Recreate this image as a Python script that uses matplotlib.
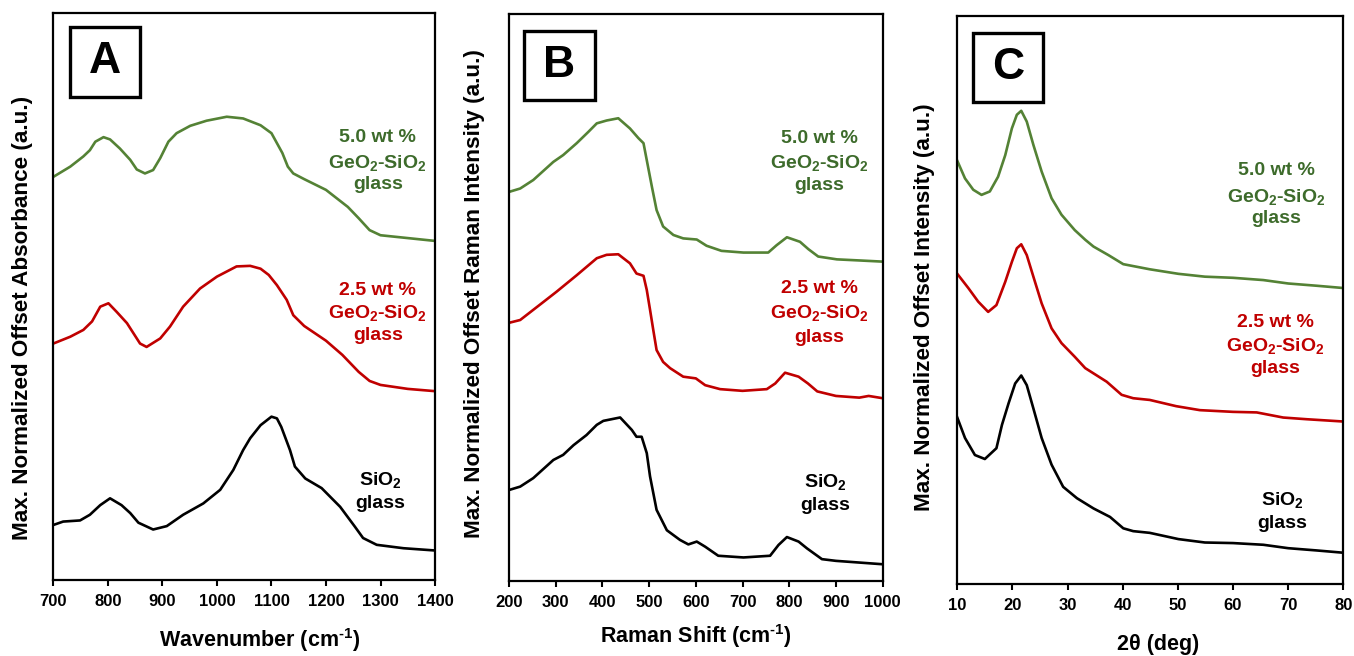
import matplotlib
matplotlib.use("Agg")
import matplotlib.pyplot as plt
from matplotlib.patches import Rectangle

plt.rcParams['font.family'] = ['Liberation Sans', 'DejaVu Sans']
plt.rcParams['font.weight'] = 'bold'
plt.rcParams['mathtext.fontset'] = 'custom'
plt.rcParams['mathtext.rm'] = 'Liberation Sans:bold'
plt.rcParams['mathtext.bf'] = 'Liberation Sans:bold'
plt.rcParams['mathtext.it'] = 'Liberation Sans:bold:italic'
plt.rcParams['mathtext.default'] = 'bf'

GREEN = '#548235'
GREEN_TXT = '#3d6b2b'
RED = '#c00000'
BLACK = '#000000'

# ---------------- Panel A: FTIR absorbance ----------------
ftir_x_ge50 = [700, 731, 755, 767, 777, 792, 804, 822, 841, 853, 868, 883, 896, 911, 926, 951, 981, 1018, 1048,
               1080, 1100, 1120, 1130, 1140, 1160, 1200, 1240, 1260, 1280, 1300, 1350, 1400]
ftir_y_ge50 = [71.1, 72.9, 74.7, 75.8, 77.3, 78.1, 77.7, 76.1, 74.1, 72.4, 71.7, 72.3, 74.4, 77.3, 78.8, 80.1, 81.0, 81.7, 81.4,
               80.2, 78.8, 75.3, 72.9, 71.7, 70.7, 68.8, 65.8, 63.8, 61.7, 60.8, 60.3, 59.8]
ftir_x_ge25 = [700, 731, 755, 771, 786, 801, 816, 835, 847, 859, 871, 896, 914, 938, 969, 1000, 1036, 1061,
               1080, 1095, 1110, 1128, 1140, 1160, 1200, 1230, 1260, 1280, 1300, 1350, 1400]
ftir_y_ge25 = [41.7, 42.9, 44.1, 45.6, 48.2, 48.8, 47.3, 45.3, 43.5, 41.7, 41.1, 42.6, 44.7, 48.2, 51.4, 53.5, 55.3, 55.4,
               54.9, 53.8, 52.0, 49.4, 46.7, 44.8, 42.2, 39.7, 36.7, 35.1, 34.4, 33.7, 33.3]
ftir_x_sio2 = [700, 718, 749, 767, 786, 804, 825, 841, 856, 883, 908, 938, 975, 1006, 1030, 1048, 1061, 1080,
               1100, 1110, 1118, 1134, 1143, 1162, 1192, 1226, 1253, 1268, 1293, 1342, 1400]
ftir_y_sio2 = [9.7, 10.3, 10.5, 11.5, 13.2, 14.4, 13.2, 11.8, 10.1, 8.9, 9.5, 11.5, 13.5, 15.9, 19.4, 22.9, 25.0, 27.3,
               28.8, 28.5, 27.0, 22.9, 20.0, 17.9, 16.2, 12.9, 9.4, 7.4, 6.2, 5.6, 5.2]
ftir_ticks = [700, 800, 900, 1000, 1100, 1200, 1300, 1400]

# ---------------- Panel B: Raman ----------------
raman_x_ge50 = [200, 224, 252, 295, 316, 345, 370, 388, 409, 434, 459, 477, 488, 495, 506, 516, 530, 552,
                573, 602, 623, 655, 702, 755, 773, 795, 823, 841, 862, 902, 952, 1000]
raman_y_ge50 = [68.6, 69.2, 70.7, 73.9, 75.1, 77.2, 79.2, 80.7, 81.2, 81.6, 79.8, 78.1, 77.2, 74.2, 69.5, 65.4, 62.5, 61.0,
                60.4, 60.2, 59.1, 58.2, 57.9, 57.9, 59.2, 60.6, 59.8, 58.5, 57.2, 56.7, 56.5, 56.3]
raman_x_ge25 = [200, 224, 274, 302, 345, 388, 409, 434, 459, 473, 488, 495, 502, 509, 516, 530, 545,
                573, 600, 620, 652, 700, 752, 770, 791, 820, 840, 860, 900, 950, 970, 1000]
raman_y_ge25 = [45.5, 46.0, 49.2, 51.0, 53.9, 56.9, 57.5, 57.6, 56.0, 54.2, 53.8, 51.3, 47.8, 44.2, 40.7, 38.6, 37.5,
                36.0, 35.7, 34.5, 33.8, 33.5, 33.8, 34.8, 36.7, 36.0, 34.8, 33.4, 32.6, 32.3, 32.6, 32.2]
raman_x_sio2 = [200, 224, 252, 295, 316, 338, 366, 388, 402, 438, 463, 473, 484, 495, 502, 516, 538, 566,
                584, 602, 620, 648, 702, 759, 777, 795, 820, 838, 870, 900, 950, 1000]
raman_y_sio2 = [16.0, 16.6, 18.1, 21.3, 22.2, 23.9, 25.7, 27.5, 28.2, 28.8, 26.6, 25.4, 25.4, 22.5, 18.4, 12.5, 8.9, 7.2,
                6.4, 6.9, 6.0, 4.4, 4.1, 4.4, 6.3, 7.7, 6.9, 5.7, 3.8, 3.5, 3.2, 2.9]
raman_ticks = [200, 300, 400, 500, 600, 700, 800, 900, 1000]

# ---------------- Panel C: XRD ----------------
xrd_x_ge50 = [10, 11.4, 12.9, 14.4, 15.9, 17.4, 18.7, 19.9, 20.8, 21.6, 22.6, 23.8, 25.3, 27.1, 28.9, 31.3, 33.2,
              34.7, 37.4, 40.1, 44.9, 50.1, 54.9, 60, 65.5, 70, 75.2, 80]
xrd_y_ge50 = [74.5, 71.4, 69.4, 68.5, 69.1, 71.7, 75.5, 80.2, 82.6, 83.3, 81.4, 77.3, 72.6, 67.9, 65.0, 62.3, 60.6,
              59.4, 57.9, 56.3, 55.4, 54.6, 54.1, 53.9, 53.5, 52.9, 52.5, 52.1]
xrd_x_ge25 = [10, 12.0, 13.8, 15.6, 17.1, 18.7, 19.9, 20.8, 21.6, 22.6, 23.8, 25.3, 27.1, 28.9, 31.3, 33.2,
              37.1, 39.8, 41.9, 44.9, 49.7, 54, 60, 64.3, 69.1, 73.4, 80]
xrd_y_ge25 = [54.6, 52.1, 49.7, 47.9, 49.1, 53.2, 56.7, 59.1, 59.8, 57.9, 54.1, 49.4, 45.0, 42.4, 40.0, 38.0,
              35.6, 33.3, 32.7, 32.4, 31.3, 30.6, 30.3, 30.2, 29.3, 29.0, 28.6]
xrd_x_sio2 = [10, 11.4, 13.2, 15.0, 17.1, 18.1, 19.3, 20.5, 21.6, 22.6, 23.8, 25.3, 27.1, 29.2, 31.7,
              34.7, 37.7, 40.1, 41.9, 44.9, 50.1, 54.9, 60, 65.5, 70, 75.2, 80]
xrd_y_sio2 = [29.3, 25.7, 22.7, 22.0, 23.9, 28.0, 31.8, 35.3, 36.7, 35.0, 30.9, 25.7, 21.0, 17.1, 15.1,
              13.3, 11.8, 9.8, 9.3, 9.0, 7.9, 7.3, 7.2, 6.9, 6.3, 5.9, 5.5]
xrd_ticks = [10, 20, 30, 40, 50, 60, 70, 80]

fig = plt.figure(figsize=(13.54, 6.56), dpi=100)

axA = fig.add_axes([0.0394, 0.1159, 0.2819, 0.8643])
axB = fig.add_axes([0.3759, 0.1148, 0.2760, 0.8639])
axC = fig.add_axes([0.7070, 0.1098, 0.2851, 0.8659])

LW = 1.9

panels = [
    (axA, (700, 1400), ftir_ticks,
     [(ftir_x_ge50, ftir_y_ge50, GREEN), (ftir_x_ge25, ftir_y_ge25, RED), (ftir_x_sio2, ftir_y_sio2, BLACK)],
     'A', (0.0437, 0.852, 0.1834, 0.1235),
     (1295, [78.0, 73.5, 69.7]), (1295, [51.1, 47.1, 43.2]), (1299, [17.6, 13.4])),
    (axB, (200, 1000), raman_ticks,
     [(raman_x_ge50, raman_y_ge50, GREEN), (raman_x_ge25, raman_y_ge25, RED), (raman_x_sio2, raman_y_sio2, BLACK)],
     'B', (0.0401, 0.848, 0.190, 0.1218),
     (864.5, [78.1, 73.7, 69.8]), (864.5, [51.6, 47.2, 43.0]), (876.7, [17.5, 13.2])),
    (axC, (10, 80), xrd_ticks,
     [(xrd_x_ge50, xrd_y_ge50, GREEN), (xrd_x_ge25, xrd_y_ge25, RED), (xrd_x_sio2, xrd_y_sio2, BLACK)],
     'C', (0.0415, 0.849, 0.181, 0.1215),
     (67.9, [72.8, 68.2, 64.4]), (67.7, [46.0, 41.9, 37.9]), (69.0, [14.8, 10.7])),
]

LABEL_FS = 14
for ax, xlim, ticks, series, letter, box, g_lab, r_lab, k_lab in panels:
    for xs, ys, c in series:
        ax.plot(xs, ys, color=c, lw=LW, solid_joinstyle='round')
    ax.set_xlim(*xlim)
    ax.set_ylim(0, 100)
    ax.set_xticks(ticks)
    ax.set_xticklabels([str(t) for t in ticks])
    for lab in ax.get_xticklabels():
        lab.set_fontsize(12)
        lab.set_fontweight('bold')
    ax.set_yticks([])
    ax.tick_params(axis='x', direction='out', length=4, width=1.5, pad=6)
    for s in ax.spines.values():
        s.set_linewidth(1.6)
    # panel letter box
    ax.add_patch(Rectangle((box[0], box[1]), box[2], box[3], transform=ax.transAxes,
                           fill=False, lw=2.4, ec='black', clip_on=False))
    ax.text(box[0] + box[2] / 2, box[1] + box[3] / 2, letter, transform=ax.transAxes,
            ha='center', va='center', fontsize=32, fontweight='bold')
    gx, gy = g_lab
    ax.text(gx, gy[0], '5.0 wt %', color=GREEN_TXT, ha='center', va='center', fontsize=LABEL_FS)
    ax.text(gx, gy[1], r'GeO$_2$-SiO$_2$', color=GREEN_TXT, ha='center', va='center', fontsize=LABEL_FS)
    ax.text(gx, gy[2], 'glass', color=GREEN_TXT, ha='center', va='center', fontsize=LABEL_FS)
    rx, ry = r_lab
    ax.text(rx, ry[0], '2.5 wt %', color=RED, ha='center', va='center', fontsize=LABEL_FS)
    ax.text(rx, ry[1], r'GeO$_2$-SiO$_2$', color=RED, ha='center', va='center', fontsize=LABEL_FS)
    ax.text(rx, ry[2], 'glass', color=RED, ha='center', va='center', fontsize=LABEL_FS)
    kx, ky = k_lab
    ax.text(kx, ky[0], r'SiO$_2$', color=BLACK, ha='center', va='center', fontsize=LABEL_FS)
    ax.text(kx, ky[1], 'glass', color=BLACK, ha='center', va='center', fontsize=LABEL_FS)

AX_FS = 15.5
fig.text(0.192, 0.0244, r'Wavenumber (cm$^{\text{-1}}$)', ha='center', va='center', fontsize=AX_FS)
fig.text(0.514, 0.0305, r'Raman Shift (cm$^{\text{-1}}$)', ha='center', va='center', fontsize=AX_FS)
fig.text(0.855, 0.0168, '2θ (deg)', ha='center', va='center', fontsize=AX_FS)

YL_FS = 16.2
fig.text(0.0163, 0.516, 'Max. Normalized Offset Absorbance (a.u.)', rotation=90,
         ha='center', va='center', fontsize=YL_FS)
fig.text(0.3508, 0.552, 'Max. Normalized Offset Raman Intensity (a.u.)', rotation=90,
         ha='center', va='center', fontsize=YL_FS)
fig.text(0.683, 0.531, 'Max. Normalized Offset Intensity (a.u.)', rotation=90,
         ha='center', va='center', fontsize=YL_FS)

fig.savefig('out.png', dpi=100)
